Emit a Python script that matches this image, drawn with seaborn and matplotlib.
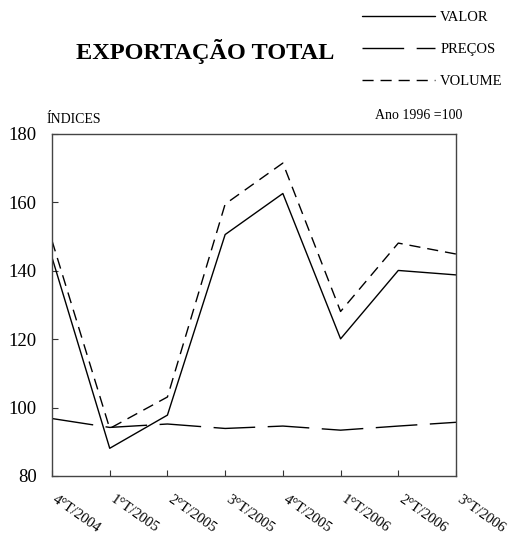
import matplotlib
matplotlib.use("Agg")
import matplotlib.pyplot as plt
import seaborn as sns
import pandas as pd

quarters = ["4ºT/2004", "1ºT/2005", "2ºT/2005", "3ºT/2005", "4ºT/2005", "1ºT/2006", "2ºT/2006", "3ºT/2006"]
tick_labels = ["4°T/2004", "1°T/2005", "2°T/2005", "3°T/2005", "4°T/2005", "1°T/2006", "2°T/2006", "3°T/2006"]
valor = [143.9, 88.1, 97.8, 150.6, 162.6, 120.1, 140.1, 138.8]
precos = [96.8, 94.2, 95.2, 93.9, 94.6, 93.4, 94.6, 95.7]
volume = [148.8, 93.9, 103.1, 159.5, 171.5, 128.1, 148.1, 144.9]
yticks = [80, 100, 120, 140, 160, 180]

sns.set_theme(style="white")
plt.rcParams["font.family"] = ["Liberation Serif", "DejaVu Serif"]
plt.rcParams["text.color"] = "black"
plt.rcParams["axes.labelcolor"] = "black"
plt.rcParams["xtick.color"] = "black"
plt.rcParams["ytick.color"] = "black"

rows = []
for name, vals in (("VALOR", valor), ("PREÇOS", precos), ("VOLUME", volume)):
    for i, v in enumerate(vals):
        rows.append({"idx": i, "serie": name, "valor": v})
df = pd.DataFrame(rows)

fig = plt.figure(figsize=(5.18, 5.39), dpi=100)
ax = fig.add_axes([0.1004, 0.1169, 0.7799, 0.6345])

sns.lineplot(data=df, x="idx", y="valor", style="serie",
             style_order=["VALOR", "PREÇOS", "VOLUME"],
             dashes={"VALOR": "", "PREÇOS": (30, 9), "VOLUME": (8, 5)},
             color="black", linewidth=1.0, ax=ax, legend=True)

ax.set_xlim(0, len(quarters) - 1)
ax.set_ylim(80, 180)
ax.set_yticks(yticks)
ax.set_yticklabels([str(t) for t in yticks], fontsize=13.5)
ax.set_xticks(range(len(quarters)))
ax.set_xticklabels([])
ax.tick_params(axis="both", direction="in", length=4, width=0.8, colors="#333333",
               left=True, bottom=True, top=False, right=False, labelcolor="black", pad=11)
for s in ax.spines.values():
    s.set_color("#444444")
    s.set_linewidth(1.0)
ax.set_xlabel("")
ax.set_ylabel("")

for i, lab in enumerate(tick_labels):
    ax.annotate(lab, xy=(i, 80), xycoords="data", xytext=(4, -12), textcoords="offset points",
                rotation=-35, rotation_mode="anchor", ha="left", va="top", fontsize=10.5,
                color="black")

handles, labels = ax.get_legend_handles_labels()
leg = ax.legend(handles, labels, loc="upper left", bbox_to_anchor=(0.685, 0.994),
                bbox_transform=fig.transFigure, frameon=False, fontsize=10.5,
                handlelength=5.0, handletextpad=0.35, labelspacing=1.3, borderpad=0)
for t in leg.get_texts():
    t.set_color("black")

fig.text(0.396, 0.905, "EXPORTAÇÃO TOTAL", ha="center", va="center", fontsize=17.5,
         fontweight="bold", color="black")
fig.text(0.089, 0.779, "ÍNDICES", ha="left", va="center", fontsize=10, color="black")
fig.text(0.808, 0.785, "Ano 1996 =100", ha="center", va="center", fontsize=10, color="black")

fig.savefig("out.png", dpi=100)
